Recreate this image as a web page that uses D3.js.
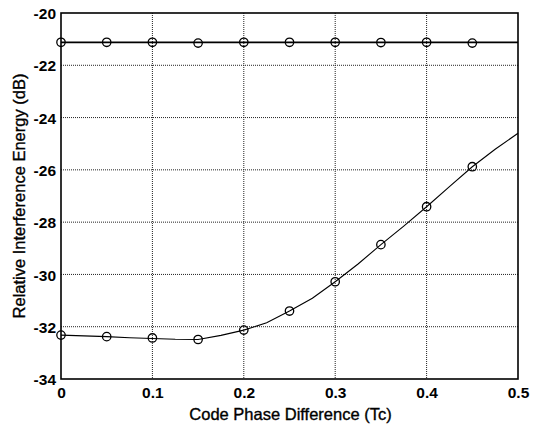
<!DOCTYPE html>
<html>
<head>
<meta charset="utf-8">
<script src="https://cdn.jsdelivr.net/npm/d3@7"></script>
<style>
  html, body { margin: 0; padding: 0; background: #fff; }
  svg { display: block; }
  text { font-family: "Liberation Sans", Arial, sans-serif; fill: #000; }
</style>
</head>
<body>
<script>
// ---- data ----
const xLine = [0, 0.025, 0.05, 0.075, 0.1, 0.125, 0.15, 0.175, 0.2, 0.225, 0.25,
               0.275, 0.3, 0.325, 0.35, 0.375, 0.4, 0.425, 0.45, 0.475, 0.5];
const upperLine = [-21.12, -21.12, -21.12, -21.12, -21.12, -21.12, -21.12, -21.12, -21.12, -21.12, -21.12,
                   -21.12, -21.12, -21.12, -21.12, -21.12, -21.12, -21.12, -21.12, -21.12, -21.12];
const lowerLine = [-32.32, -32.35, -32.38, -32.42, -32.45, -32.48, -32.49, -32.33, -32.13, -31.85, -31.40,
                   -30.91, -30.28, -29.60, -28.86, -28.15, -27.41, -26.64, -25.88, -25.21, -24.60];
const xMarkers = [0, 0.05, 0.1, 0.15, 0.2, 0.25, 0.3, 0.35, 0.4, 0.45];
const upperMarkers = [-21.12, -21.12, -21.12, -21.15, -21.12, -21.12, -21.12, -21.13, -21.12, -21.15];
const lowerMarkers = [-32.32, -32.38, -32.43, -32.49, -32.13, -31.40, -30.28, -28.86, -27.41, -25.88];
const xTicks = [0, 0.1, 0.2, 0.3, 0.4, 0.5];
const yTicks = [-20, -22, -24, -26, -28, -30, -32, -34];
const xLabel = "Code Phase Difference (Tc)";
const yLabel = "Relative Interference Energy (dB)";

// ---- layout ----
const W = 541, H = 424;
const m = { left: 61, top: 13, right: 23, bottom: 45 };
const pw = W - m.left - m.right, ph = H - m.top - m.bottom;

const svg = d3.select("body").append("svg").attr("width", W).attr("height", H);
const g = svg.append("g").attr("transform", `translate(${m.left},${m.top})`);

const x = d3.scaleLinear().domain([0, 0.5]).range([0, pw]);
const y = d3.scaleLinear().domain([-34, -20]).range([ph, 0]);

// grid
g.append("g").selectAll("line.gx").data(xTicks.slice(1, -1)).join("line")
  .attr("x1", d => x(d)).attr("x2", d => x(d)).attr("y1", 0).attr("y2", ph)
  .attr("stroke", "#222").attr("stroke-width", 1).attr("stroke-dasharray", "1,1");
g.append("g").selectAll("line.gy").data(yTicks.slice(1, -1)).join("line")
  .attr("y1", d => y(d)).attr("y2", d => y(d)).attr("x1", 0).attr("x2", pw)
  .attr("stroke", "#222").attr("stroke-width", 1).attr("stroke-dasharray", "1,1");

// axes
const xAxis = g.append("g").attr("transform", `translate(0,${ph})`)
  .call(d3.axisBottom(x).tickValues(xTicks).tickSize(0).tickPadding(8).tickFormat(d => d === 0 ? "0" : d3.format(".1f")(d)));
const yAxis = g.append("g")
  .call(d3.axisLeft(y).tickValues(yTicks).tickSize(0).tickPadding(5).tickFormat(d => d3.format("d")(d).replace("−", "-")));
[xAxis, yAxis].forEach(a => {
  a.select(".domain").remove();
  a.selectAll("text").attr("font-size", 15.5).attr("font-weight", "bold")
    .attr("font-family", "'Liberation Sans', Arial, sans-serif").attr("fill", "#000");
});
yAxis.selectAll("text").attr("dy", "0.36em");

// box
g.append("rect").attr("x", 0).attr("y", 0).attr("width", pw).attr("height", ph)
  .attr("fill", "none").attr("stroke", "#000").attr("stroke-width", 1.6);

// lines
const line = d3.line().x(d => x(d[0])).y(d => y(d[1]));
g.append("path").datum(xLine.map((v, i) => [v, upperLine[i]]))
  .attr("d", line).attr("fill", "none").attr("stroke", "#000").attr("stroke-width", 1.8);
g.append("path").datum(xLine.map((v, i) => [v, lowerLine[i]]))
  .attr("d", line).attr("fill", "none").attr("stroke", "#000").attr("stroke-width", 1.1);

// markers
[upperMarkers, lowerMarkers].forEach(vals => {
  g.append("g").selectAll("circle").data(xMarkers.map((v, i) => [v, vals[i]])).join("circle")
    .attr("cx", d => x(d[0])).attr("cy", d => y(d[1])).attr("r", 4.2)
    .attr("fill", "none").attr("stroke", "#000").attr("stroke-width", 1.3);
});

// axis labels
svg.append("text").attr("x", m.left + pw / 2 + 1).attr("y", 420)
  .attr("text-anchor", "middle").attr("font-size", 16.5)
  .attr("stroke", "#000").attr("stroke-width", 0.35).text(xLabel);
svg.append("text").attr("transform", `translate(25,${m.top + ph / 2}) rotate(-90)`)
  .attr("text-anchor", "middle").attr("font-size", 16.5)
  .attr("stroke", "#000").attr("stroke-width", 0.35).text(yLabel);
</script>
</body>
</html>
